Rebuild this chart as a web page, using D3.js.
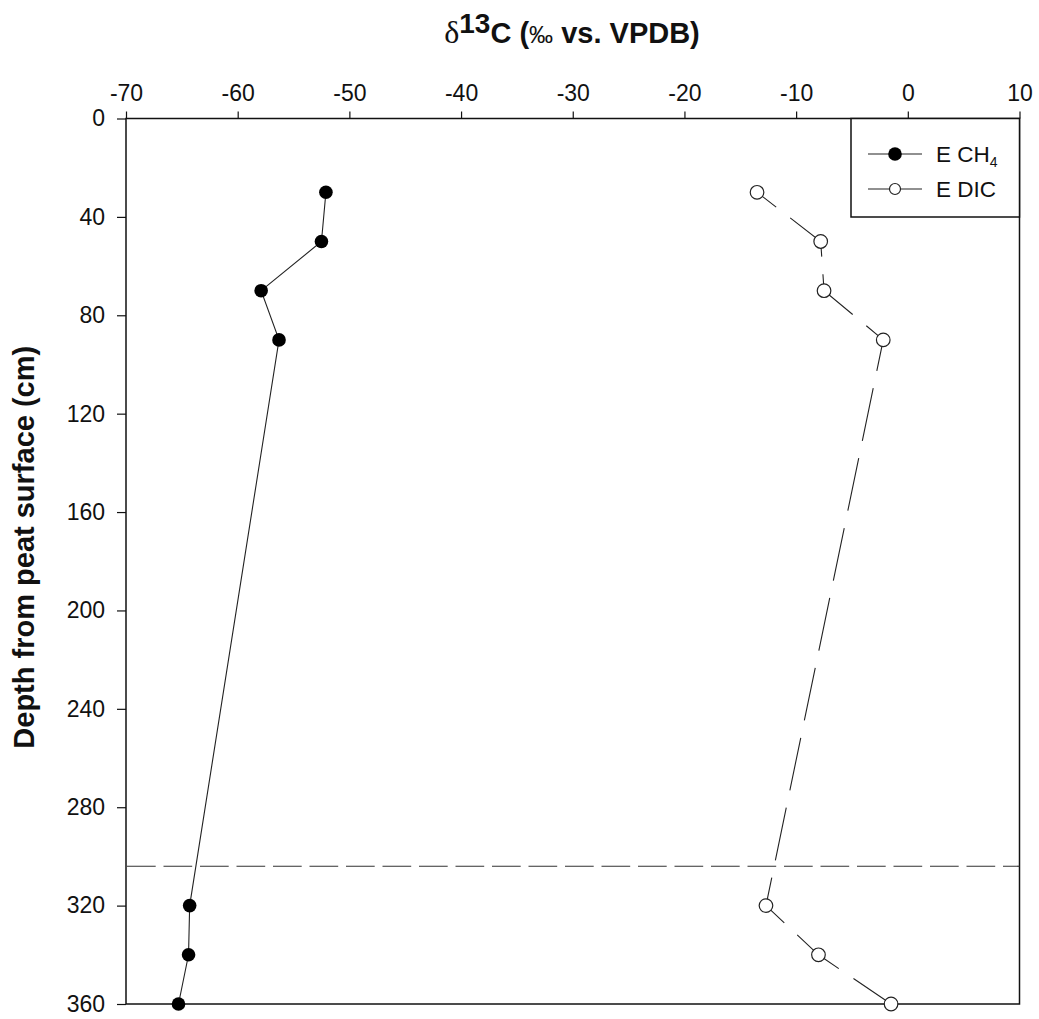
<!DOCTYPE html>
<html>
<head>
<meta charset="utf-8">
<script src="https://cdn.jsdelivr.net/npm/d3@7"></script>
<style>
  html, body { margin: 0; padding: 0; background: #fff; }
  svg { display: block; font-family: Arial, "Liberation Sans", sans-serif; }
</style>
</head>
<body>
<svg id="chart" width="1039" height="1019"></svg>
<script>
// Sampling depths (cm below peat surface)
const depths = [30, 50, 70, 90, 320, 340, 360];
// δ13C of methane, site E (‰ vs. VPDB)
const ch4Values = [-52.1, -52.5, -57.9, -56.3, -64.3, -64.4, -65.3];
// δ13C of dissolved inorganic carbon, site E (‰ vs. VPDB)
const dicValues = [-13.5, -7.8, -7.5, -2.2, -12.7, -8.0, -1.5];
// Depth of the horizontal reference line
const boundaryDepth = [304];
// Axis ticks
const xTicks = [-70, -60, -50, -40, -30, -20, -10, 0, 10];
const yTicks = [0, 40, 80, 120, 160, 200, 240, 280, 320, 360];
const seriesNames = ["E CH", "E DIC"];

const svg = d3.select("#chart");
const plotLeft = 126, plotRight = 1019.5, plotTop = 118.5, plotBottom = 1004;

const x = d3.scaleLinear().domain([-70, 10]).range([plotLeft, plotRight]);
const y = d3.scaleLinear().domain([0, 360]).range([plotTop, plotBottom]);

const ink = "#111";

// Top x axis
const xAxis = svg.append("g")
  .attr("transform", `translate(0,${plotTop})`)
  .call(d3.axisTop(x).tickValues(xTicks).tickSize(7).tickPadding(11).tickFormat(d3.format("d")));
// Left y axis
const yAxis = svg.append("g")
  .attr("transform", `translate(${plotLeft},0)`)
  .call(d3.axisLeft(y).tickValues(yTicks).tickSize(9).tickPadding(12).tickFormat(d3.format("d")));

[xAxis, yAxis].forEach(g => {
  g.select(".domain").remove();
  g.selectAll(".tick line").attr("stroke", ink).attr("stroke-width", 1.2);
  g.selectAll(".tick text")
    .attr("fill", ink)
    .style("font-size", "23px")
    .style("font-family", "Arial, 'Liberation Sans', sans-serif")
    .text(d => d < 0 ? "-" + Math.abs(d) : d);
});

// Plot frame
svg.append("rect")
  .attr("x", plotLeft).attr("y", plotTop)
  .attr("width", plotRight - plotLeft).attr("height", plotBottom - plotTop)
  .attr("fill", "none").attr("stroke", ink).attr("stroke-width", 1.5);

// Horizontal dashed reference line
svg.append("line")
  .attr("x1", plotLeft + 1).attr("x2", plotRight)
  .attr("y1", y(boundaryDepth[0])).attr("y2", y(boundaryDepth[0]))
  .attr("stroke", "#333").attr("stroke-width", 1.2)
  .attr("stroke-dasharray", "28.7,7.8");

const ch4 = depths.map((d, i) => ({ depth: d, v: ch4Values[i] }));
const dic = depths.map((d, i) => ({ depth: d, v: dicValues[i] }));

const line = d3.line().x(d => x(d.v)).y(d => y(d.depth));

// Profile lines
svg.append("path").datum(ch4)
  .attr("d", line).attr("fill", "none")
  .attr("stroke", "#222").attr("stroke-width", 1.1);
svg.append("path").datum(dic)
  .attr("d", line).attr("fill", "none")
  .attr("stroke", "#222").attr("stroke-width", 1.1)
  .attr("stroke-dasharray", "53.7,17.7")
  .attr("stroke-dashoffset", -41.9);

// Markers
svg.append("g").selectAll("circle").data(ch4).join("circle")
  .attr("cx", d => x(d.v)).attr("cy", d => y(d.depth)).attr("r", 6.8)
  .attr("fill", "#000");
svg.append("g").selectAll("circle").data(dic).join("circle")
  .attr("cx", d => x(d.v)).attr("cy", d => y(d.depth)).attr("r", 6.8)
  .attr("fill", "#fff").attr("stroke", "#222").attr("stroke-width", 1.2);

// Legend
const lg = svg.append("g");
lg.append("rect")
  .attr("x", 851).attr("y", plotTop)
  .attr("width", plotRight - 851).attr("height", 217 - plotTop)
  .attr("fill", "#fff").attr("stroke", ink).attr("stroke-width", 1.5);
const legendRows = [
  { name: seriesNames[0], sub: "4", fill: "#000", r: 6.8, cy: 154 },
  { name: seriesNames[1], sub: null, fill: "#fff", r: 5.5, cy: 189 }
];
legendRows.forEach(row => {
  lg.append("line").attr("x1", 868).attr("x2", 922)
    .attr("y1", row.cy).attr("y2", row.cy)
    .attr("stroke", "#222").attr("stroke-width", 1.1);
  lg.append("circle").attr("cx", 895).attr("cy", row.cy).attr("r", row.r)
    .attr("fill", row.fill).attr("stroke", "#222").attr("stroke-width", row.sub ? 0 : 1.2);
  const t = lg.append("text").attr("x", 936).attr("y", row.cy + 8)
    .attr("fill", ink).style("font-size", "22.5px").text(row.name);
  if (row.sub) {
    t.append("tspan").attr("dy", 5).style("font-size", "14px").text(row.sub);
  }
});

// Axis titles
const title = svg.append("text")
  .attr("x", 572).attr("y", 43)
  .attr("text-anchor", "middle")
  .attr("fill", ink)
  .style("font-size", "29px").style("font-weight", "bold");
title.append("tspan").style("font-family", "'Liberation Serif', 'Times New Roman', serif")
  .style("font-weight", "normal").style("font-size", "32px").text("δ");
title.append("tspan").attr("dy", -10).style("font-size", "28px").text("13");
title.append("tspan").attr("dy", 10).text("C (");
title.append("tspan").style("font-size", "24px").style("font-weight", "normal").text("‰");
title.append("tspan").text(" vs. VPDB)");

svg.append("text")
  .attr("transform", `translate(34,${(plotTop + plotBottom) / 2 - 14}) rotate(-90)`)
  .attr("text-anchor", "middle")
  .attr("fill", ink)
  .style("font-size", "29px").style("font-weight", "bold")
  .text("Depth from peat surface (cm)");
</script>
</body>
</html>
